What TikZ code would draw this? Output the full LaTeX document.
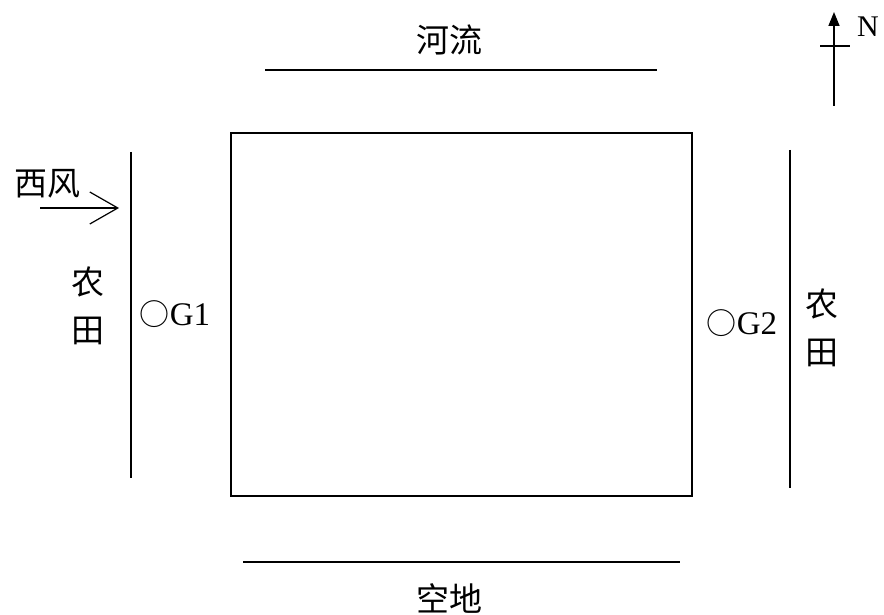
\documentclass[tikz,border=0pt]{standalone}
\usepackage{fontspec}
\setmainfont{Liberation Serif}
\newfontfamily\cjk{Noto Sans CJK SC}
\usetikzlibrary{arrows.meta}
\begin{document}
\begin{tikzpicture}[x=1pt,y=-1pt,
  ln/.style={line width=1.8pt,black},
  cn/.style={font=\cjk\fontsize{33}{36}\selectfont,inner sep=0pt},
  gn/.style={font=\fontsize{33}{36}\selectfont,inner sep=0pt}]
\useasboundingbox (0,0) rectangle (884,615);
% river
\node[cn] (river) at (449,40) {河流};
\coordinate (r1) at (265,70); \coordinate (r2) at (657,70);
\draw[ln] (r1) -- (r2);
% main plot
\node[draw,line width=1.8pt,minimum width=461pt,minimum height=363pt,inner sep=0pt] (plot) at (461.5,314.5) {};
% left and right boundary
\coordinate (l1) at (131,152); \coordinate (l2) at (131,478);
\draw[ln] (l1) -- (l2);
\coordinate (e1) at (790,150); \coordinate (e2) at (790,488);
\draw[ln] (e1) -- (e2);
% bottom
\coordinate (b1) at (243,562); \coordinate (b2) at (680,562);
\draw[ln] (b1) -- (b2);
\node[cn] (empty) at (449,598) {空地};
% north arrow
\coordinate (n1) at (834,106); \coordinate (n2) at (834,12);
\draw[line width=1.6pt,-{Triangle[length=14pt,width=11pt]}] (n1) -- (n2);
\coordinate (c1) at (820,46); \coordinate (c2) at (850,46);
\draw[line width=1.2pt] (c1) -- (c2);
\node[gn,font=\fontsize{30}{32}\selectfont] (N) at (868,27) {N};
% wind
\node[cn] (wind) at (47,184) {西风};
\coordinate (w1) at (40,208); \coordinate (w2) at (119,208);
\draw[line width=1.5pt,-{Straight Barb[length=28pt,width=32pt,line width=1.2pt]}] (w1) -- (w2);
% fields
\node[cn] (f1a) at (88,282) {农};
\node[cn] (f1b) at (88,331) {田};
\node[cn] (f2a) at (822,304) {农};
\node[cn] (f2b) at (822,353) {田};
% wells
\node[gn] (g1) at (175,314) {{\cjk\fontsize{30}{32}\selectfont ○}G1};
\node[gn] (g2) at (742,323) {{\cjk\fontsize{30}{32}\selectfont ○}G2};
\end{tikzpicture}
\end{document}
